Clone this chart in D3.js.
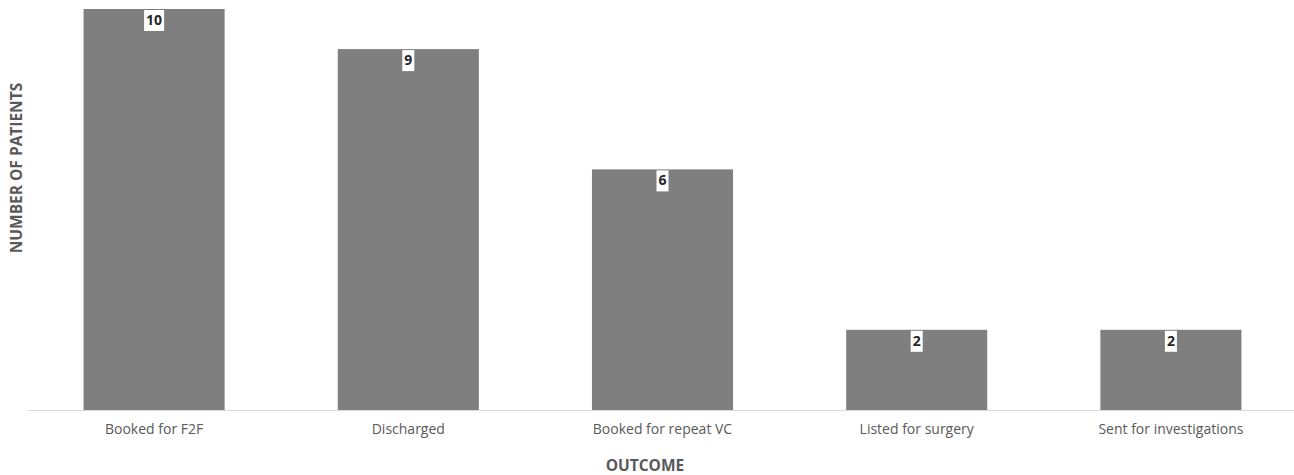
<!DOCTYPE html>
<html>
<head>
<meta charset="utf-8">
<script src="https://cdn.jsdelivr.net/npm/d3@7"></script>
<style>
  html, body { margin: 0; padding: 0; background: #fff; }
  svg { display: block; }
  text { font-family: "Open Sans", "Liberation Sans", sans-serif; }
</style>
</head>
<body>
<svg id="chart" width="1294" height="475"></svg>
<script>
const categories = ["Booked for F2F", "Discharged", "Booked for repeat VC", "Listed for surgery", "Sent for investigations"];
const values = [10, 9, 6, 2, 2];
const xTitle = "OUTCOME";
const yTitle = "NUMBER OF PATIENTS";

const W = 1294, H = 475;
const svg = d3.select("#chart");

const x = d3.scaleBand().domain(categories).range([27, 1298]).paddingInner(0.445).paddingOuter(0.2225);
const y = d3.scaleLinear().domain([0, 10]).range([410, 9]);

// bars
svg.append("g").selectAll("rect").data(values).join("rect")
  .attr("x", (d, i) => x(categories[i]))
  .attr("y", d => y(d))
  .attr("width", x.bandwidth())
  .attr("height", d => y(0) - y(d))
  .attr("fill", "#7f7f7f");

// baseline axis
const xAxis = d3.axisBottom(x).tickSize(0).tickPadding(14);
const gx = svg.append("g").attr("transform", `translate(0,${y(0)})`).call(xAxis);
gx.select(".domain").attr("d", `M27,0.5H1294`).attr("stroke", "#d9d9d9").attr("stroke-width", 1.2);
gx.selectAll(".tick text")
  .attr("fill", "#595959")
  .style("font-size", "14px")
  .style("font-family", "'Open Sans', sans-serif");

// data labels with white boxes
const lab = svg.append("g").selectAll("g").data(values).join("g")
  .attr("transform", (d, i) => `translate(${x(categories[i]) + x.bandwidth() / 2},${y(d) + 11})`);
lab.append("text")
  .attr("text-anchor", "middle")
  .attr("dy", "0.35em")
  .attr("fill", "#262626")
  .style("font-size", "14px")
  .style("font-weight", "bold")
  .text(d => d);
lab.each(function() {
  const g = d3.select(this);
  const bb = g.select("text").node().getBBox();
  g.insert("rect", "text")
    .attr("x", bb.x - 2)
    .attr("y", -10)
    .attr("width", bb.width + 4)
    .attr("height", 21)
    .attr("fill", "#fff");
});

// axis titles
svg.append("text")
  .attr("x", 645).attr("y", 466)
  .attr("text-anchor", "middle").attr("dy", "0.35em")
  .attr("fill", "#595959")
  .style("font-size", "15.5px").style("font-weight", "bold")
  .text(xTitle);

svg.append("text")
  .attr("transform", `translate(17,168) rotate(-90)`)
  .attr("text-anchor", "middle").attr("dy", "0.35em")
  .attr("fill", "#595959")
  .style("font-size", "15.5px").style("font-weight", "bold")
  .text(yTitle);
</script>
</body>
</html>
